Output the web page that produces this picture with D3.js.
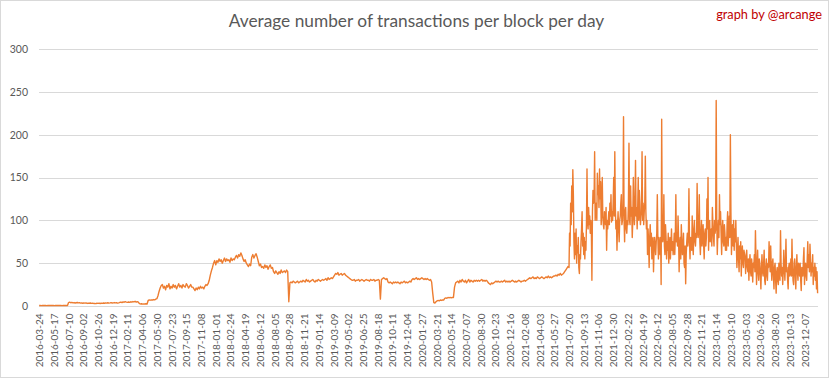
<!DOCTYPE html>
<html>
<head>
<meta charset="utf-8">
<script src="https://cdn.jsdelivr.net/npm/d3@7"></script>
<style>
  html, body { margin: 0; padding: 0; background: #fff; }
  svg { display: block; }
</style>
</head>
<body>
<svg id="chart" width="833" height="379"></svg>
<script>
// ---------------- DATA ----------------
const titleText = "Average number of transactions per block per day";
const creditText = "graph by @arcange";

const totalCategories = 2858;

// calm period: one value per 4 days (categories)
const calmStepDays = 4;
const earlyValues = [
  0.5,0.5,0.4,0.5,0.6,0.5,0.5,0.4,0.5,0.5,0.6,0.5,0.5,0.5,0.4,0.5,0.5,0.6,0.5,0.5,0.5,0.4,0.5,0.5,0.6,0.5,0.5,
  4,4.5,3.8,4.2,3.6,4,3.5,3.8,4.1,3.7,3.9,3.4,3.6,3.2,3.5,3.3,3.6,3,3.4,3.2,3.5,3.1,3.3,3,
  3,2.8,3.2,3,3.3,2.9,3.4,3.1,3.5,3.2,3.6,3.3,3.8,3.4,3.6,3.9,3.5,3.7,4,3.6,3.8,3.4,3.7,
  4.2,4.6,4,4.8,4.4,5,4.5,4.2,4.7,4.3,4.9,4.6,5.2,4.8,5.5,4.6,5,4.4,
  2.8,2.4,2.6,2.2,2.5,2.3,2.6,2.4,
  6.5,7,6.8,7.2,7,7.5,7.2,8,8.5,
  12,17,21,24,
  25,21,23,19,24,22,26,20,23,21,25,22,24,20,23,26,22,24,21,25,23,22,26,24,21,23,25,22,
  22,20,18,21,19,22,20,23,21,22,20,23,
  25,24,26,
  30,36,41,45,50,53
];

const peakValues = [
  48,53,51,55,52,54,50,53,56,52,55,53,54,51,56,53,55,54,
  57,59,56,60,58,62,59,
  55,52,54,50,
  48,46,49,47,
  57,60,56,59,61,57,
  52,47,49,45,
  46,44,48,45,47,43,46,48,44,45,
  40,38,41,39,37,40,38,42,39,40,
  41,39,42,40,
  5,
  27,28,27,29,28,27,28,29,27,28,29,
  28,30,29,28,31,29,30,28,29,30,31,29,28,30,29,31,30,29,30,31,30,
  31,32,30,33,31,32,33,32,34,
  36,38,37,39,36,37,38,36,37,38,36,35,
  34,33,32,31,30,
  30,31,29,30,30,31,29,30,31,30,29,30,31,30,30,29,31,30,30,31,29,30,30,31,
  30,8,31,
  32,33,32,31,32,
  28,27,28,27,26,28,27,28,27,28,27,26,28,27,28,29,27,28,27,28,29,28,
  31,32,31,32,33,31,32,31,32,33,32,31,32,31,32,31,30,31,
  28,15,4
];

const recoveryValues = [
  3.5,5,6,6.5,6,7,6.5,7,7,
  9,9.5,9,10,9.5,10,9.5,10,10,
  22,27,
  28,29,27,30,28,31,29,28,30,27,29,31,28,30,29,28,30,
  29,30,29,30,29,30,31,29,30,29,30,29,
  27,26,25,27,26,27,
  28,29,28,29,28,28,29,28,29,30,28,29,28,29,28,29,30,29,28,29,28,29,30,29,28,29,29,30,29,30,
  31,32,33,32,33,34,32,33,32,34,33,32,33,34,33,32,33,34,33,35,33,34,33,34,35,
  35,36,35,37,36,38,36,37,38,
  40,42,44,46
];

// volatile period (from 2021-07): one value per 2 days
const volatileStepDays = 2;
const volatileValues2021 = [
  45,85,70,120,95,140,110,159,130,75,55,85,60,90,50,70,62,80,
  45,38,60,55,75,90,110,70,85,60,80,55,75,65,95,160,100,90,
  115,95,105,85,100,90,30,110,135,120,125,180,100,115,120,100,155,130,
  140,115,160,125,145,95,110,150,105,95,90,110,100,95,115,65,100,90,
  100,110,95,120,105,130,98,110,100,120,150,105,180,115,90,100,65,95
];
const volatileValues2022 = [
  110,90,75,100,105,120,130,95,100,115,221,100,75,110,115,90,85,100,
  95,120,190,100,95,140,105,115,80,100,150,110,95,120,170,105,115,90,
  115,150,100,135,120,95,105,110,180,100,120,95,110,120,175,110,90,100,
  60,90,75,45,80,95,70,85,55,75,80,40,65,80,70,60,75,85,
  130,80,55,80,70,60,80,25,218,90,75,85,130,70,60,95,80,55,
  75,65,85,50,70,80,55,70,90,65,75,60,70,85,60,80,130,75,
  85,70,105,80,40,70,80,55,95,75,60,70,85,50,45,70,26,60,
  75,85,70,80,137,75,55,80,75,65,105,70,60,90,100,75,70,85,
  80,143,90,80,95,130,75,60,85,100,70,80,95,70,55,85,90,70,
  80,125,90,150,65,95,100,75,85,90,70,115,95,80,70,100,85,90
];
const volatileValues2023 = [
  240,100,60,85,100,80,130,95,110,85,60,90,100,75,70,95,85,65,
  80,65,95,110,70,90,105,80,200,110,60,85,95,70,100,65,90,75,
  100,70,45,65,80,55,40,70,55,75,35,60,70,50,45,65,60,55,
  38,60,65,45,40,55,30,50,60,40,35,55,45,28,50,45,60,40,
  88,55,25,45,65,40,30,55,50,35,20,45,60,40,35,50,65,30,
  25,45,55,35,30,50,45,75,55,40,70,45,30,50,55,35,20,45,
  50,30,15,40,45,30,25,50,40,30,88,50,35,45,25,40,65,45,
  30,50,78,40,45,30,20,45,50,35,40,55,35,78,45,30,25,50,
  55,35,20,45,60,40,30,50,45,35,50,30,18,45,40,35,55,68,
  25,45,50,35,30,55,75,45,60,40,72,55,35,50,40,60,25,45,35,50,30,45,20,40,15
];

const xTickLabels = [
  "2016-03-24","2016-05-17","2016-07-10","2016-09-02","2016-10-26","2016-12-19",
  "2017-02-11","2017-04-06","2017-05-30","2017-07-23","2017-09-15","2017-11-08",
  "2018-01-01","2018-02-24","2018-04-19","2018-06-12","2018-08-05","2018-09-28","2018-11-21",
  "2019-01-14","2019-03-09","2019-05-02","2019-06-25","2019-08-18","2019-10-11","2019-12-04",
  "2020-01-27","2020-03-21","2020-05-14","2020-07-07","2020-08-30","2020-10-23","2020-12-16",
  "2021-02-08","2021-04-03","2021-05-27","2021-07-20","2021-09-13","2021-11-06","2021-12-30",
  "2022-02-22","2022-04-19","2022-06-12","2022-08-05","2022-09-28","2022-11-21",
  "2023-01-14","2023-03-10","2023-05-03","2023-06-26","2023-08-20","2023-10-13","2023-12-07"
];
const labelIntervalDays = 54;
const yTicks = [0, 50, 100, 150, 200, 250, 300];

// ---------------- DRAW ----------------
const calm = earlyValues.concat(peakValues, recoveryValues);
const volatile = volatileValues2021.concat(volatileValues2022, volatileValues2023);
const volatileStart = calm.length * calmStepDays;
const points = calm.map((v, i) => ({ cat: i * calmStepDays, v }))
  .concat(volatile.map((v, j) => ({ cat: volatileStart + j * volatileStepDays, v })));

const svg = d3.select("#chart");
const font = "Lato, 'Open Sans', sans-serif";
const textGrey = "#595959";

const plot = { left: 39, right: 818, top: 49, bottom: 306 };

svg.append("rect")
  .attr("x", 0.5).attr("y", 0.5).attr("width", 828).attr("height", 377)
  .attr("fill", "#fff").attr("stroke", "#d9d9d9");

const x = d3.scaleLinear().domain([0, totalCategories]).range([plot.left, plot.right]);
const y = d3.scaleLinear().domain([0, 300]).range([plot.bottom, plot.top]);

// gridlines
svg.append("g").selectAll("line").data(yTicks.filter(d => d > 0)).join("line")
  .attr("x1", plot.left).attr("x2", plot.right)
  .attr("y1", d => Math.round(y(d)) + 0.5).attr("y2", d => Math.round(y(d)) + 0.5)
  .attr("stroke", "#d9d9d9").attr("stroke-width", 1);

// y axis
const yAxis = d3.axisLeft(y).tickValues(yTicks).tickSize(0).tickPadding(0);
const gy = svg.append("g").attr("transform", `translate(${plot.left - 11},0)`).call(yAxis);
gy.select(".domain").remove();
gy.selectAll("text").attr("fill", textGrey).style("font-family", font).style("font-size", "10.5px");

// x axis
const tickCats = xTickLabels.map((d, i) => i * labelIntervalDays + 0.5);
const xAxis = d3.axisBottom(x).tickValues(tickCats).tickSize(0)
  .tickFormat((d, i) => xTickLabels[i]);
const gx = svg.append("g").attr("transform", `translate(0,${Math.round(plot.bottom) + 0.5})`).call(xAxis);
gx.select(".domain").attr("stroke", "#d9d9d9").attr("d", `M${plot.left},0H${plot.right}`);
gx.selectAll("text")
  .attr("fill", textGrey).style("font-family", font).style("font-size", "10px")
  .attr("text-anchor", "end")
  .attr("transform", "rotate(-90)")
  .attr("x", -7).attr("y", 0).attr("dy", "0.35em");

// line
const line = d3.line()
  .x(d => x(d.cat + 0.5))
  .y(d => y(d.v));
svg.append("path").datum(points)
  .attr("d", line)
  .attr("fill", "none").attr("stroke", "#ED7D31")
  .attr("stroke-width", 1.4).attr("stroke-linejoin", "round");

// title
const title = svg.append("text").text(titleText)
  .attr("x", 416.5).attr("y", 27).attr("text-anchor", "middle")
  .attr("fill", textGrey).style("font-family", font).style("font-size", "18px");
const tl = title.node().getComputedTextLength();
title.style("font-size", (18 * 376 / tl).toFixed(2) + "px");

const credit = svg.append("text").text(creditText)
  .attr("x", 822).attr("y", 19).attr("text-anchor", "end")
  .attr("fill", "#c00000").style("font-family", font).style("font-size", "12px");
const cl = credit.node().getComputedTextLength();
credit.style("font-size", (12 * 106 / cl).toFixed(2) + "px");
</script>
</body>
</html>
